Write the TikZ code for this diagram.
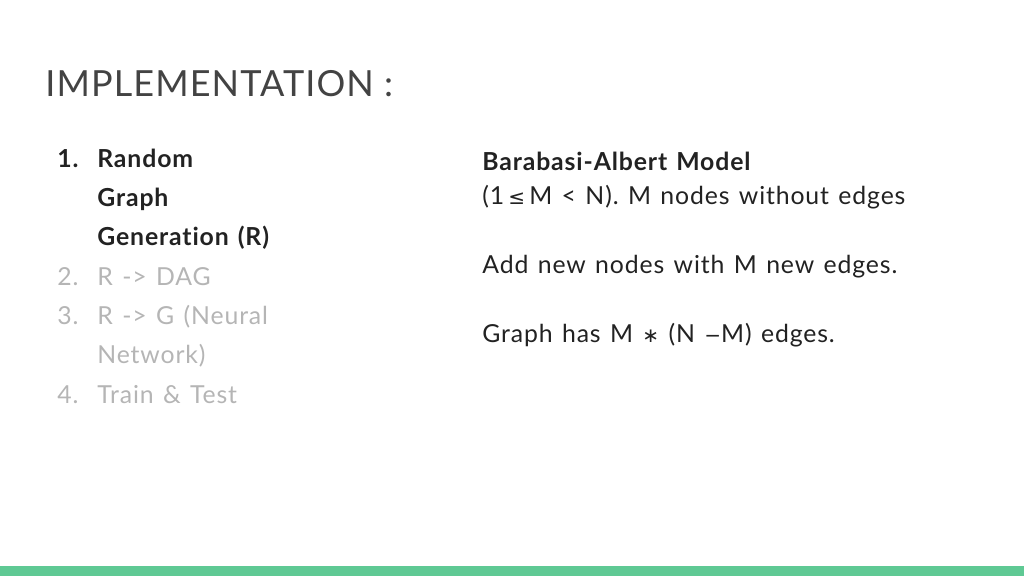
\documentclass[tikz,border=0pt]{standalone}
\usepackage{fontspec}
\setmainfont{Lato}[Ligatures={NoCommon},LetterSpace=3.5,WordSpace=1.3]
\newfontfamily\titlef{Lato}[LetterSpace=3]
\newfontfamily\symf{DejaVu Sans}
\definecolor{barg}{HTML}{5FC994}
\definecolor{txt}{HTML}{222222}
\definecolor{dim}{HTML}{B5B5B5}
\tikzset{lab/.style={anchor=base west,inner sep=0pt,font=\fontsize{12.4}{14}\selectfont},
blab/.style={lab,text=txt,font=\fontsize{12.4}{14}\selectfont\bfseries},
ttl/.style={anchor=base west,inner sep=0pt,font=\titlef\fontsize{18}{20}\selectfont,text=txt!85}}
\begin{document}
\begin{tikzpicture}[x=0.5pt,y=-0.5pt]
\useasboundingbox (0,0) rectangle (1024,576);
\fill[barg] (0,566) rectangle (1024,576);
\node[ttl] (t) at (45,97) {IMPLEMENTATION :};
\node[blab] (n1) at (57,168) {1.};
\node[blab] (a1) at (97,168) {Random};
\node[blab] (a2) at (97,207) {Graph};
\node[blab] (a3) at (97,246) {Generation (R)};
\node[lab,text=dim] (n2) at (57,286) {2.};
\node[lab,text=dim] (b1) at (97,286) {R -> DAG};
\node[lab,text=dim] (n3) at (57,325) {3.};
\node[lab,text=dim] (c1) at (97,325) {R -> G (Neural};
\node[lab,text=dim] (c2) at (97,364) {Network)};
\node[lab,text=dim] (n4) at (57,404) {4.};
\node[lab,text=dim] (d1) at (97,404) {Train \& Test};
\node[blab] (r1) at (482,171) {Barabasi-Albert Model};
\node[lab,text=txt] (r2) at (482,205) {(1\,{\symf\fontsize{10}{12}\selectfont ≤}\,M < N). M nodes without edges};
\node[lab,text=txt] (r3) at (482,274) {Add new nodes with M new edges.};
\node[lab,text=txt] (r4) at (482,343) {Graph has M {\symf\fontsize{10}{12}\selectfont ∗} (N {\symf\fontsize{10}{12}\selectfont −}M) edges.};
\end{tikzpicture}
\end{document}
